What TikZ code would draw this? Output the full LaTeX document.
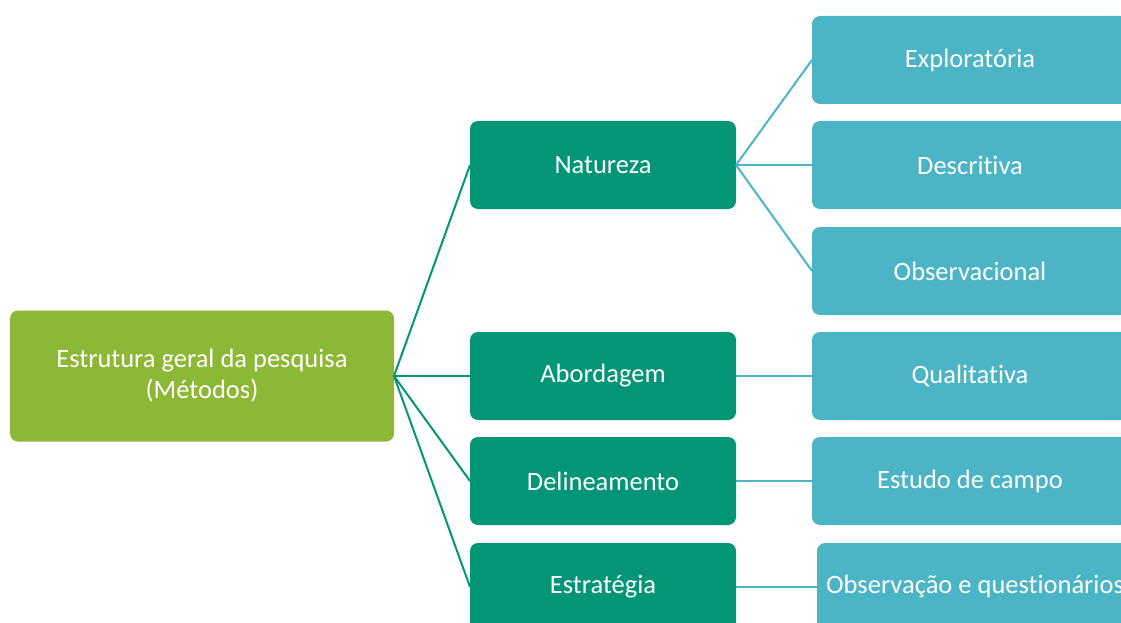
\documentclass[tikz,border=0pt]{standalone}
\usepackage{fontspec}
\setmainfont{Carlito}[Ligatures={NoCommon}]
\usepackage{xcolor}
\definecolor{rootgreen}{HTML}{8CB836}
\definecolor{midteal}{HTML}{039676}
\definecolor{leafblue}{HTML}{4BB5C5}

\begin{document}
\begin{tikzpicture}[x=1pt, y=-1pt,
    box/.style={rounded corners=8pt, inner sep=0pt, outer sep=0pt, text=white,
      font=\fontsize{26.5}{31}\selectfont, align=center},
    rootbox/.style={box, fill=rootgreen, minimum width=384pt, minimum height=131pt},
    midbox/.style={box, fill=midteal, minimum width=266pt, minimum height=88pt},
    leafbox/.style={box, fill=leafblue, minimum width=316pt, minimum height=88pt},
    midline/.style={midteal, line width=2pt},
    leafline/.style={leafblue, line width=2pt}]
  \useasboundingbox (0,0) rectangle (1121,623);
  \clip (0,0) rectangle (1121,623);
  % root
  \node[rootbox] (root) at (202,376) {Estrutura geral da pesquisa\\(Métodos)};
  % middle column
  \node[midbox] (natureza) at (603,165) {Natureza};
  \node[midbox] (abordagem) at (603,376) {Abordagem};
  \node[midbox] (delineamento) at (603,481) {Delineamento};
  \node[midbox] (estrategia) at (603,587) {Estratégia};
  % right column
  \node[leafbox] (exploratoria) at (970,60) {Exploratória};
  \node[leafbox] (descritiva) at (970,165) {Descritiva};
  \node[leafbox] (observacional) at (970,271) {Observacional};
  \node[leafbox] (qualitativa) at (970,376) {Qualitativa};
  \node[leafbox] (campo) at (970,481) {Estudo de campo};
  \node[leafbox] (questionarios) at (975,587) {Observação e questionários};
  % connectors
  \draw[midline] (root.east) -- (natureza.west);
  \draw[midline] (root.east) -- (abordagem.west);
  \draw[midline] (root.east) -- (delineamento.west);
  \draw[midline] (root.east) -- (estrategia.west);
  \draw[leafline] (natureza.east) -- (exploratoria.west);
  \draw[leafline] (natureza.east) -- (descritiva.west);
  \draw[leafline] (natureza.east) -- (observacional.west);
  \draw[leafline] (abordagem.east) -- (qualitativa.west);
  \draw[leafline] (delineamento.east) -- (campo.west);
  \draw[leafline] (estrategia.east) -- (questionarios.west);
\end{tikzpicture}
\end{document}
